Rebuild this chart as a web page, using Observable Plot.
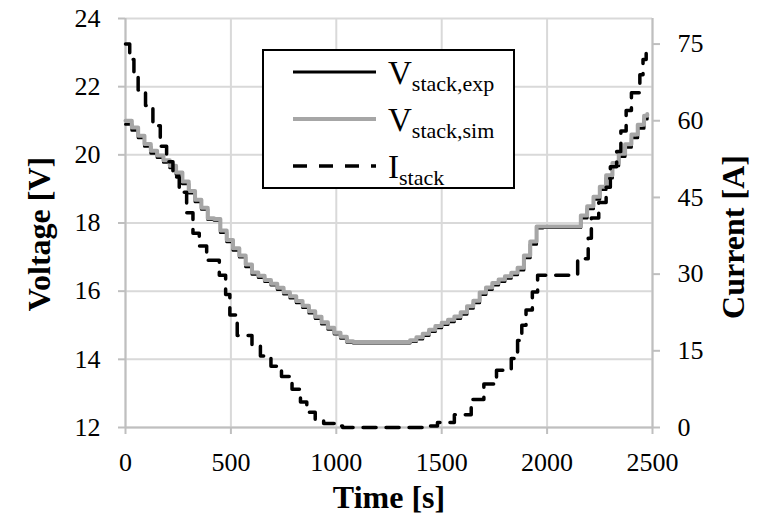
<!DOCTYPE html>
<html>
<head>
<meta charset="utf-8">
<script src="https://cdn.jsdelivr.net/npm/d3@7"></script>
<script src="https://cdn.jsdelivr.net/npm/@observablehq/plot@0.6"></script>
<style>
  body { margin: 0; background: #fff; }
  #wrap { position: relative; width: 772px; height: 526px; font-family: "Liberation Serif", "Times New Roman", serif; }
  #legend { position: absolute; left: 262px; top: 49px; }
  #legend svg { overflow: visible; display: block; }
</style>
</head>
<body>
<div id="wrap">
  <div id="chart"></div>
  <div id="legend"></div>
</div>
<script>
// ---- data ----
const vTime = [0,30,60,90,120,150,180,210,240,270,300,330,360,390,420,450,480,510,540,570,600,630,660,690,720,750,780,810,840,870,900,930,960,990,1020,1050,1080,1110,1140,1170,1200,1230,1260,1290,1320,1350,1380,1410,1440,1470,1500,1530,1560,1590,1620,1650,1680,1710,1740,1770,1800,1830,1860,1890,1920,1950,1980,2010,2040,2070,2100,2130,2160,2190,2220,2250,2280,2310,2340,2370,2400,2430,2460,2475];
const vExp = [20.90,20.72,20.50,20.25,20.05,19.92,19.78,19.62,19.42,19.15,18.88,18.62,18.40,18.10,18.08,17.72,17.45,17.20,17.00,16.72,16.50,16.40,16.28,16.18,16.05,15.92,15.80,15.66,15.52,15.36,15.20,15.04,14.88,14.74,14.62,14.50,14.48,14.48,14.48,14.48,14.48,14.48,14.48,14.48,14.48,14.52,14.60,14.70,14.82,14.93,15.02,15.10,15.20,15.32,15.50,15.66,15.90,16.05,16.18,16.28,16.38,16.48,16.62,16.98,17.38,17.85,17.87,17.87,17.87,17.87,17.87,17.87,18.15,18.42,18.70,18.98,19.32,19.68,19.95,20.22,20.50,20.78,21.05,21.10];
const vSim = [21.00,20.80,20.56,20.32,20.12,19.98,19.84,19.68,19.48,19.22,18.94,18.68,18.45,18.14,18.12,17.78,17.50,17.26,17.05,16.78,16.55,16.45,16.33,16.22,16.10,15.97,15.85,15.71,15.57,15.41,15.25,15.09,14.93,14.78,14.66,14.53,14.51,14.51,14.51,14.51,14.51,14.51,14.51,14.51,14.51,14.56,14.65,14.75,14.87,14.98,15.07,15.16,15.26,15.38,15.56,15.72,15.96,16.11,16.24,16.34,16.44,16.54,16.69,17.05,17.46,17.90,17.90,17.90,17.90,17.90,17.90,17.90,18.22,18.49,18.77,19.06,19.40,19.76,20.03,20.31,20.60,20.88,21.15,21.20];
const iTime = [0,20,40,60,95,130,165,195,225,255,290,320,350,385,445,475,495,530,600,640,690,740,790,830,860,900,940,990,1030,1400,1430,1480,1560,1640,1700,1760,1830,1860,1880,1900,1930,1955,2145,2195,2210,2245,2280,2300,2330,2350,2375,2400,2440,2455,2470];
const iStack = [75,72,69,66,63,59,55,52,49,46,42,38,35.5,32.7,29.8,26,22,18,16,14,12,10,7.5,5,3,1.5,0.8,0.3,0,0,0.3,1,2.5,5.5,8.5,11.2,13.5,17,20,23,26.5,29.8,33,37,41,44,47,51,54,58,62,65.5,69,72,75];

const xTicks = [0,500,1000,1500,2000,2500];
const vTicks = [12,14,16,18,20,22,24];
const iTicks = [0,15,30,45,60,75];
const vDomain = [12,24];
const iDomain = [0,80];   // secondary (right) axis range

// map current onto the voltage frame (secondary axis)
const iToV = i => vDomain[0] + (i - iDomain[0]) * (vDomain[1] - vDomain[0]) / (iDomain[1] - iDomain[0]);
const vToI = v => iDomain[0] + (v - vDomain[0]) * (iDomain[1] - iDomain[0]) / (vDomain[1] - vDomain[0]);

const expData = vTime.map((t, k) => ({t, v: vExp[k]}));
const simData = vTime.map((t, k) => ({t, v: vSim[k]}));
const curData = iTime.map((t, k) => ({t, i: iStack[k]}));

const axisColor = "#bfbfbf";
const gridColor = "#d9d9d9";
const tickFont = 26;

const chart = Plot.plot({
  width: 772,
  height: 526,
  marginLeft: 125,
  marginRight: 120,
  marginTop: 18,
  marginBottom: 99,
  style: {fontFamily: "'Liberation Serif', 'Times New Roman', serif", fontSize: tickFont + "px", color: "#000", background: "#fff", overflow: "visible"},
  x: {domain: [0, 2500]},
  y: {domain: vDomain},
  marks: [
    Plot.gridX(xTicks, {stroke: gridColor, strokeOpacity: 1, strokeWidth: 2}),
    Plot.gridY(vTicks, {stroke: gridColor, strokeOpacity: 1, strokeWidth: 2}),
    Plot.ruleX([0, 2500], {stroke: axisColor, strokeWidth: 2}),
    Plot.ruleY([12], {stroke: axisColor, strokeWidth: 2}),
    Plot.axisX(xTicks, {anchor: "bottom", tickSize: 7, tickPadding: 18, stroke: axisColor, strokeWidth: 2, fill: "#000", label: null, tickFormat: d => String(d)}),
    Plot.axisY(vTicks, {anchor: "left", tickSize: 7, tickPadding: 18, stroke: axisColor, strokeWidth: 2, fill: "#000", label: null, tickFormat: d => String(d)}),
    Plot.axisY(iTicks.map(iToV), {anchor: "right", tickSize: 7, tickPadding: 18, stroke: axisColor, strokeWidth: 2, fill: "#000", label: null, tickFormat: v => String(Math.round(vToI(v)))}),
    Plot.line(expData, {x: "t", y: "v", curve: "step-after", stroke: "#000", strokeWidth: 3, strokeLinejoin: "round"}),
    Plot.line(simData, {x: "t", y: "v", curve: "step-after", stroke: "#a6a6a6", strokeWidth: 4, strokeLinejoin: "round"}),
    Plot.line(curData, {x: "t", y: d => iToV(d.i), curve: "step-after", stroke: "#000", strokeWidth: 3.5, strokeDasharray: "13,10", strokeLinejoin: "round"}),
    Plot.text(["Voltage [V]"], {frameAnchor: "left", rotate: -90, dx: -86, dy: 11, fontWeight: "bold", fontSize: 32, textAnchor: "middle", lineAnchor: "middle", fill: "#000"}),
    Plot.text(["Current [A]"], {frameAnchor: "right", rotate: -90, dx: 81, dy: 14, fontWeight: "bold", fontSize: 32, textAnchor: "middle", lineAnchor: "middle", fill: "#000"}),
    Plot.text(["Time [s]"], {frameAnchor: "bottom", dy: 70, fontWeight: "bold", fontSize: 32, textAnchor: "middle", lineAnchor: "middle", fill: "#000"})
  ]
});
document.getElementById("chart").appendChild(chart);

// ---- legend (inside plot area, as in the reference) ----
const legendItems = [
  {main: "V", sub: "stack,exp", stroke: "#000", width: 3, dash: null},
  {main: "V", sub: "stack,sim", stroke: "#a6a6a6", width: 4, dash: null},
  {main: "I", sub: "stack", stroke: "#000", width: 3.5, dash: "14,12"}
];
const lw = 253, lh = 140;
const lg = d3.select("#legend").append("svg")
  .attr("width", lw).attr("height", lh + 12)
  .style("font-family", "'Liberation Serif', 'Times New Roman', serif");
lg.append("rect").attr("x", 1).attr("y", 1).attr("width", lw - 2).attr("height", lh - 2)
  .attr("fill", "#fff").attr("stroke", "#000").attr("stroke-width", 2);
legendItems.forEach((it, k) => {
  const cy = 23 + k * 47;
  lg.append("line").attr("x1", 31).attr("x2", 114).attr("y1", cy).attr("y2", cy)
    .attr("stroke", it.stroke).attr("stroke-width", it.width)
    .attr("stroke-dasharray", it.dash);
  const tx = lg.append("text").attr("x", 126).attr("y", cy + 12).attr("font-size", 33).attr("fill", "#000");
  tx.append("tspan").text(it.main);
  tx.append("tspan").attr("font-size", 22).attr("dy", 7).text(it.sub);
});
</script>
</body>
</html>
